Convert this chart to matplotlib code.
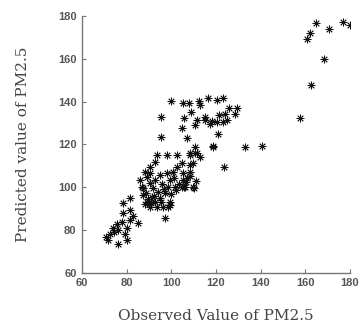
import matplotlib
matplotlib.use("Agg")
import matplotlib.pyplot as plt

# observed vs predicted PM2.5
observed = [
    164.8, 170.6, 176.9, 180.0, 162.1, 160.7, 168.4, 162.6, 157.6,
    140.6, 133.0, 118.7, 123.6, 105.7, 110.2, 108.4, 111.1,
    99.9, 105.2, 107.9, 112.4, 116.4, 120.5, 123.1, 95.4, 105.7, 108.8,
    111.5, 112.8, 115.1, 125.8, 129.4, 128.5, 124.0, 118.2, 120.5, 123.1,
    124.9, 110.6, 104.8, 95.4, 107.0, 120.9, 118.7, 110.6, 108.4, 110.6,
    112.8, 108.4,
    70.7, 71.6, 76.1, 80.2, 73.9, 75.7, 77.9, 81.5, 80.2, 85.1, 76.1,
    79.3, 78.4, 81.5, 78.4, 81.5, 87.3, 86.9, 86.0, 89.1, 90.5, 87.3,
    89.1, 90.5, 92.7, 93.6, 96.3, 98.5, 97.2, 99.4, 94.9, 97.2, 94.0,
    91.8, 90.5, 92.7, 94.9, 98.1, 99.4, 100.8, 98.5, 101.6, 104.8,
    105.2, 102.5, 104.8, 93.6, 98.1, 102.5, 92.7, 105.2, 107.0, 108.4,
    109.7, 111.5, 108.4, 106.1, 109.7, 90.5, 88.2, 99.4,
    88.0, 89.5, 91.0, 92.0, 95.5, 96.5, 100.0, 102.0, 103.5, 106.5,
    101.0, 96.0, 88.5, 91.5, 74.5, 72.5, 83.0, 115.0, 117.5, 121.5,
]
predicted = [
    176.7, 173.9, 177.2, 175.8, 172.1, 169.3, 159.9, 147.8, 132.4,
    119.3, 118.8, 119.3, 109.5, 100.2, 99.7, 105.3, 103.0,
    140.3, 139.4, 139.4, 140.3, 141.7, 140.8, 141.7, 132.8, 132.4, 135.2,
    131.4, 138.4, 132.8, 137.0, 137.0, 134.2, 134.2, 131.0, 130.5, 130.5,
    131.4, 129.1, 127.7, 123.5, 123.0, 124.9, 118.8, 118.8, 115.1, 116.0,
    114.2, 110.4,
    76.8, 75.4, 73.6, 75.4, 81.0, 82.9, 83.8, 84.8, 81.0, 83.4, 80.1,
    78.2, 88.0, 89.4, 92.7, 95.0, 96.4, 100.2, 103.4, 104.8, 106.7, 99.7,
    93.2, 90.8, 93.2, 90.8, 90.8, 90.8, 85.7, 91.8, 95.0, 97.4, 97.8,
    99.7, 102.0, 103.4, 105.8, 106.7, 103.4, 107.2, 100.2, 100.2, 100.2,
    103.4, 109.5, 111.4, 115.1, 115.1, 115.1, 111.8, 106.7, 104.4, 107.2,
    111.4, 116.0, 116.0, 100.2, 100.2, 109.5, 107.2, 93.2,
    92.0, 94.5, 92.5, 96.0, 93.0, 99.0, 97.0, 98.5, 101.5, 102.5,
    104.5, 101.5, 97.5, 95.5, 79.0, 78.0, 86.5, 131.5, 129.5, 133.5,
]

xticks = [60, 80, 100, 120, 140, 160, 180]
yticks = [60, 80, 100, 120, 140, 160, 180]

fig = plt.figure(figsize=(3.6, 3.3), dpi=100)
ax = fig.add_axes([0.228, 0.173, 0.744, 0.779])

ax.plot(observed, predicted, linestyle="none", marker=(8, 2, 0),
        markersize=5.5, color="#111111", markeredgewidth=0.6)

ax.set_xlim(60, 180)
ax.set_ylim(60, 180)
ax.set_xticks(xticks)
ax.set_yticks(yticks)

for side in ["top", "right"]:
    ax.spines[side].set_visible(False)
for side in ["left", "bottom"]:
    ax.spines[side].set_color("#777777")
    ax.spines[side].set_linewidth(1.0)

ax.tick_params(direction="in", length=3, color="#777777", pad=4,
               labelcolor="#555555", labelsize=8)
for lab in ax.get_xticklabels() + ax.get_yticklabels():
    lab.set_family("Liberation Sans")
    lab.set_fontweight("bold")

ax.set_xlabel("Observed Value of PM2.5", family="DejaVu Serif",
              fontsize=11, color="#444444", labelpad=15)
ax.set_ylabel("Predicted value of PM2.5", family="DejaVu Serif",
              fontsize=11, color="#444444", labelpad=20)

fig.savefig("out.png", dpi=100)
